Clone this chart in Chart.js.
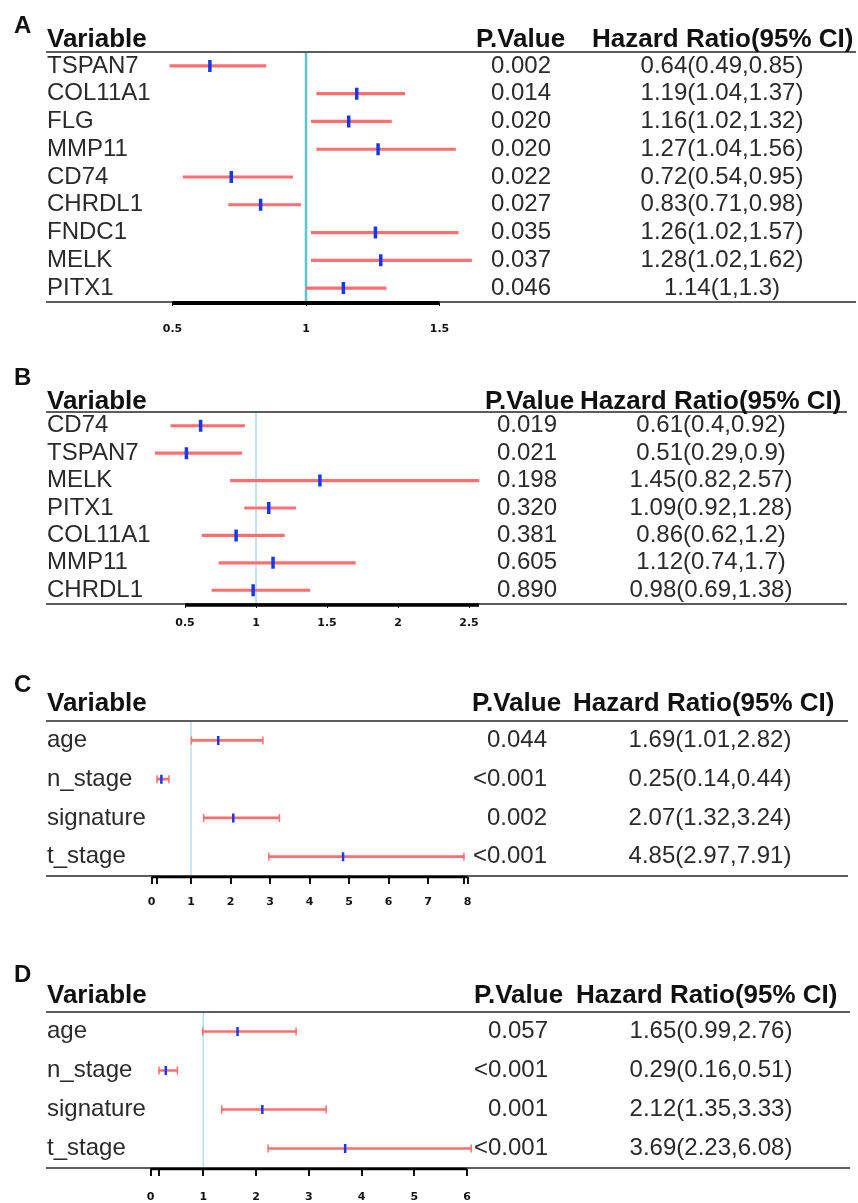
<!DOCTYPE html>
<html>
<head>
<meta charset="utf-8">
<script src="https://cdn.jsdelivr.net/npm/chart.js@4.4.1/dist/chart.umd.min.js"></script>
<style>
  body { margin: 0; background: #fff; }
  #page { position: relative; width: 858px; height: 1203px; }
  #page canvas { position: absolute; left: 0; }
</style>
</head>
<body>
<div id="page">
  <canvas id="chartA" width="858" height="345" style="top:0px"></canvas>
  <canvas id="chartB" width="858" height="300" style="top:345px"></canvas>
  <canvas id="chartC" width="858" height="295" style="top:645px"></canvas>
  <canvas id="chartD" width="858" height="263" style="top:940px"></canvas>
</div>
<script>
// --- data ---
const refValue = 1;

// A
const varsA = ['TSPAN7', 'COL11A1', 'FLG', 'MMP11', 'CD74', 'CHRDL1', 'FNDC1', 'MELK', 'PITX1'];
const pA = ['0.002', '0.014', '0.020', '0.020', '0.022', '0.027', '0.035', '0.037', '0.046'];
const hrA = [0.64, 1.19, 1.16, 1.27, 0.72, 0.83, 1.26, 1.28, 1.14];
const loA = [0.49, 1.04, 1.02, 1.04, 0.54, 0.71, 1.02, 1.02, 1];
const hiA = [0.85, 1.37, 1.32, 1.56, 0.95, 0.98, 1.57, 1.62, 1.3];
const ticksA = [0.5, 1, 1.5];
const tickLabelsA = ['0.5', '1', '1.5'];

// B
const varsB = ['CD74', 'TSPAN7', 'MELK', 'PITX1', 'COL11A1', 'MMP11', 'CHRDL1'];
const pB = ['0.019', '0.021', '0.198', '0.320', '0.381', '0.605', '0.890'];
const hrB = [0.61, 0.51, 1.45, 1.09, 0.86, 1.12, 0.98];
const loB = [0.4, 0.29, 0.82, 0.92, 0.62, 0.74, 0.69];
const hiB = [0.92, 0.9, 2.57, 1.28, 1.2, 1.7, 1.38];
const ticksB = [0.5, 1, 1.5, 2, 2.5];
const tickLabelsB = ['0.5', '1', '1.5', '2', '2.5'];

// C
const varsC = ['age', 'n_stage', 'signature', 't_stage'];
const pC = ['0.044', '<0.001', '0.002', '<0.001'];
const hrC = [1.69, 0.25, 2.07, 4.85];
const loC = [1.01, 0.14, 1.32, 2.97];
const hiC = [2.82, 0.44, 3.24, 7.91];
const ticksC = [0, 0.14, 1, 2, 3, 4, 5, 6, 7, 7.91, 8];
const tickLabelsC = ['0', '', '1', '2', '3', '4', '5', '6', '7', '', '8'];

// D
const varsD = ['age', 'n_stage', 'signature', 't_stage'];
const pD = ['0.057', '<0.001', '0.001', '<0.001'];
const hrD = [1.65, 0.29, 2.12, 3.69];
const loD = [0.99, 0.16, 1.35, 2.23];
const hiD = [2.76, 0.51, 3.33, 6.08];
const ticksD = [0, 0.16, 1, 2, 3, 4, 5, 6];
const tickLabelsD = ['0', '', '1', '2', '3', '4', '5', '6'];

const ciColor = '#ff6f6f';
const markColor = '#1238f0';
const textColor = '#2a2a2a';

function forestPlugin(p) {
    return {
        id: 'forest' + p.letter,
        beforeDatasetsDraw(chart) {
            const { ctx, chartArea, scales: { x } } = chart;
            const xr = x.getPixelForValue(refValue);
            ctx.save();
            ctx.strokeStyle = p.refColor;
            ctx.lineWidth = p.refWidth;
            ctx.beginPath();
            ctx.moveTo(xr, chartArea.top);
            ctx.lineTo(xr, chartArea.bottom);
            ctx.stroke();
            ctx.restore();
        },
        afterDraw(chart) {
            const { ctx, chartArea, scales: { x, y } } = chart;
            ctx.save();
            // header / bottom rules
            ctx.strokeStyle = '#5c5c5c';
            ctx.lineWidth = 2;
            [chartArea.top, chartArea.bottom].forEach(yy => {
                ctx.beginPath();
                ctx.moveTo(46, yy);
                ctx.lineTo(p.ruleRight, yy);
                ctx.stroke();
            });
            // axis bar
            ctx.strokeStyle = '#000';
            ctx.lineWidth = p.axisWidth;
            ctx.beginPath();
            ctx.moveTo(x.getPixelForValue(p.axisFrom), chartArea.bottom + 1);
            ctx.lineTo(x.getPixelForValue(p.axisTo), chartArea.bottom + 1);
            ctx.stroke();

            // panel letter
            ctx.fillStyle = '#111';
            ctx.textBaseline = 'alphabetic';
            ctx.textAlign = 'left';
            ctx.font = 'bold 24px "Liberation Sans", Arial, sans-serif';
            ctx.fillText(p.letter, 14, p.letterY);

            // column headers
            ctx.font = 'bold 26px "Liberation Sans", Arial, sans-serif';
            ctx.fillText('Variable', 47, p.headerY);
            ctx.fillText('P.Value', p.pHeadX, p.headerY);
            ctx.fillText('Hazard Ratio(95% CI)', p.hrHeadX, p.headerY);

            // rows
            ctx.font = '24px "Liberation Sans", Arial, sans-serif';
            ctx.fillStyle = textColor;
            ctx.textBaseline = 'middle';
            p.labels.forEach((lab, i) => {
                const yy = y.getPixelForValue(i);
                ctx.textAlign = 'left';
                ctx.fillText(lab, 47, yy);
                ctx.textAlign = 'right';
                ctx.fillText(p.pv[i], p.pRight, yy);
                ctx.textAlign = 'center';
                ctx.fillText(`${p.hr[i]}(${p.lo[i]},${p.hi[i]})`, p.hrCenter, yy);
            });
            ctx.restore();
        }
    };
}

function makePanel(id, p) {
    const W = 858;
    const left = p.px0 + (p.xMin - p.v0) * p.ppu;
    const right = p.px0 + (p.xMax - p.v0) * p.ppu;
    const canvas = document.getElementById(id);
    const H = canvas.height;

    const datasets = [
        {
            type: 'bar',
            data: p.lo.map((l, i) => [l, p.hi[i]]),
            backgroundColor: ciColor,
            borderWidth: 0,
            barThickness: p.ciWidth,
            order: 3
        },
        {
            type: 'scatter',
            data: p.hr.map((h, i) => ({ x: h, y: p.labels[i] })),
            pointStyle: 'line',
            pointRotation: 90,
            pointRadius: p.markRadius,
            pointBorderWidth: p.markWidth,
            pointBorderColor: markColor,
            pointBackgroundColor: markColor,
            order: 1
        }
    ];
    if (p.caps) {
        datasets.push({
            type: 'scatter',
            data: p.lo.map((l, i) => ({ x: l, y: p.labels[i] }))
                .concat(p.hi.map((h, i) => ({ x: h, y: p.labels[i] }))),
            pointStyle: 'line',
            pointRotation: 90,
            pointRadius: 4,
            pointBorderWidth: 1.5,
            pointBorderColor: ciColor,
            order: 2
        });
    }

    return new Chart(canvas.getContext('2d'), {
        type: 'bar',
        data: { labels: p.labels, datasets: datasets },
        options: {
            responsive: false,
            animation: false,
            events: [],
            indexAxis: 'y',
            layout: {
                padding: {
                    left: left,
                    right: W - right,
                    top: p.top,
                    bottom: H - p.bottom - p.axisH
                }
            },
            plugins: { legend: { display: false }, tooltip: { enabled: false } },
            scales: {
                y: { type: 'category', display: false, offset: true },
                x: {
                    type: 'linear',
                    position: 'bottom',
                    min: p.xMin,
                    max: p.xMax,
                    afterBuildTicks: sc => { sc.ticks = p.ticks.map(v => ({ value: v })); },
                    afterFit: sc => { sc.height = p.axisH; },
                    border: { display: false },
                    grid: {
                        display: true,
                        drawOnChartArea: false,
                        drawTicks: true,
                        tickLength: p.tickLen,
                        color: '#111',
                        lineWidth: p.tickWidth
                    },
                    ticks: {
                        autoSkip: false,
                        maxRotation: 0,
                        padding: p.tickPad,
                        color: '#111',
                        font: { family: 'DejaVu Sans', weight: 'bold', size: 11 },
                        callback: (v, i) => p.tickLabels[i]
                    }
                }
            }
        },
        plugins: [forestPlugin(p)]
    });
}

makePanel('chartA', {
    letter: 'A', labels: varsA, pv: pA, hr: hrA, lo: loA, hi: hiA,
    ticks: ticksA, tickLabels: tickLabelsA,
    v0: 1, px0: 306, ppu: 267, xMin: 0.4, xMax: 1.65,
    top: 52, bottom: 302, axisH: 38, tickLen: 4, tickPad: 17, tickWidth: 1,
    axisFrom: 0.5, axisTo: 1.5, axisWidth: 4,
    refColor: '#5cc6cf', refWidth: 2.5, ciWidth: 2.5, markRadius: 6, markWidth: 3.5, caps: false,
    letterY: 33, headerY: 47, ruleRight: 856, pHeadX: 476, hrHeadX: 592, pRight: 551, hrCenter: 722
});

makePanel('chartB', {
    letter: 'B', labels: varsB, pv: pB, hr: hrB, lo: loB, hi: hiB,
    ticks: ticksB, tickLabels: tickLabelsB,
    v0: 1, px0: 256, ppu: 142, xMin: 0.25, xMax: 2.6,
    top: 67, bottom: 259, axisH: 36, tickLen: 4, tickPad: 9, tickWidth: 1,
    axisFrom: 0.5, axisTo: 2.57, axisWidth: 3.5,
    refColor: '#a9dde4', refWidth: 1.5, ciWidth: 2.5, markRadius: 6, markWidth: 3.5, caps: false,
    letterY: 40, headerY: 64, ruleRight: 847, pHeadX: 485, hrHeadX: 580, pRight: 557, hrCenter: 711
});

makePanel('chartC', {
    letter: 'C', labels: varsC, pv: pC, hr: hrC, lo: loC, hi: hiC,
    ticks: ticksC, tickLabels: tickLabelsC,
    v0: 0, px0: 151.5, ppu: 39.5, xMin: -0.2, xMax: 8.2,
    top: 76, bottom: 231, axisH: 40, tickLen: 8, tickPad: 12, tickWidth: 2,
    axisFrom: 0, axisTo: 8, axisWidth: 2.5,
    refColor: '#b6e0e8', refWidth: 1.5, ciWidth: 2, markRadius: 4.5, markWidth: 2.5, caps: true,
    letterY: 47, headerY: 66, ruleRight: 848, pHeadX: 472, hrHeadX: 573, pRight: 547, hrCenter: 710
});

makePanel('chartD', {
    letter: 'D', labels: varsD, pv: pD, hr: hrD, lo: loD, hi: hiD,
    ticks: ticksD, tickLabels: tickLabelsD,
    v0: 0, px0: 150.5, ppu: 52.75, xMin: -0.2, xMax: 6.2,
    top: 72, bottom: 228, axisH: 35, tickLen: 8, tickPad: 15, tickWidth: 2,
    axisFrom: 0, axisTo: 6, axisWidth: 2.5,
    refColor: '#b6e0e8', refWidth: 1.5, ciWidth: 2, markRadius: 4.5, markWidth: 2.5, caps: true,
    letterY: 42, headerY: 63, ruleRight: 850, pHeadX: 474, hrHeadX: 576, pRight: 548, hrCenter: 711
});
</script>
</body>
</html>
